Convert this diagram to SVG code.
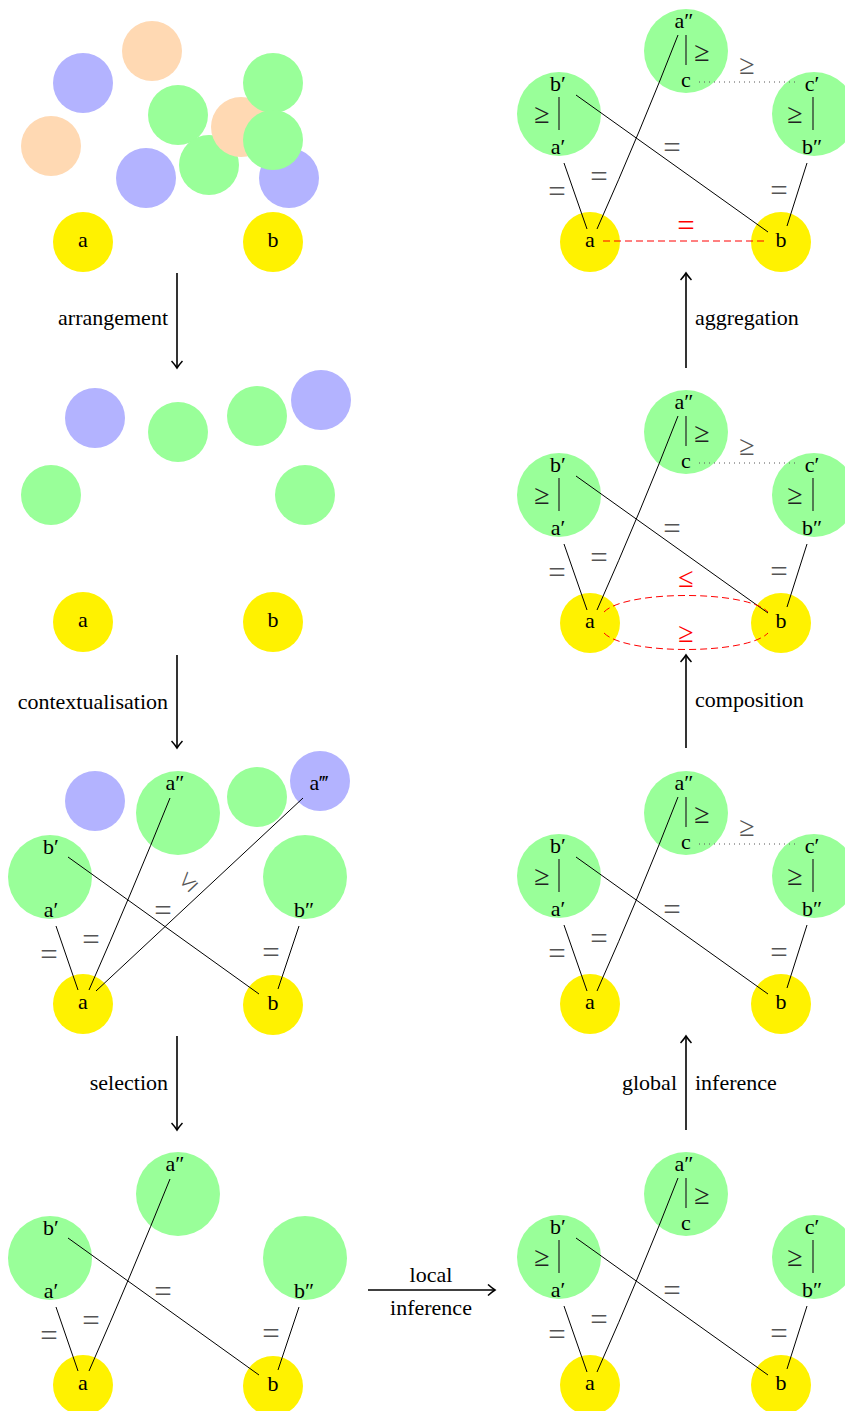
<svg xmlns="http://www.w3.org/2000/svg" width="845" height="1411" viewBox="0 0 845 1411">
<style>
.y{fill:#fff200}.g{fill:#99ff99}.bl{fill:#b3b3ff}.p{fill:#ffd9b3}
text{font-family:"Liberation Serif","DejaVu Serif",serif;font-size:22px;text-anchor:middle;fill:#000}
.eq{font-size:31px;fill:#555}
.rel{font-size:28px;fill:#222}
.relg{font-size:28px;fill:#555}
.red{fill:#ff0000}
.ln{stroke:#000;stroke-width:1;fill:none}
.bar{stroke:#222;stroke-width:1.2}
.dot{stroke:#555;stroke-width:1;stroke-dasharray:1 4;fill:none}
.rd{stroke:#ff0000;stroke-width:1;stroke-dasharray:7 4;fill:none}
.arr{stroke:#000;stroke-width:1.6;fill:none;marker-end:url(#ah)}
.st{text-anchor:start}.en{text-anchor:end}
</style>
<defs>
<marker id="ah" viewBox="-8 -6 10 12" markerWidth="10" markerHeight="12" refX="0" refY="0" orient="auto" markerUnits="userSpaceOnUse">
<path d="M-7,-5.5 Q-2.5,-1.5 0,0 Q-2.5,1.5 -7,5.5" fill="none" stroke="#000" stroke-width="1.5"/>
</marker>
</defs>

<!-- Panel L1 -->
<g id="L1">
<g id="L1-n1"><circle class="bl" cx="83" cy="83" r="30"/></g>
<g id="L1-n2"><circle class="p" cx="152" cy="51" r="30"/></g>
<g id="L1-n3"><circle class="p" cx="51" cy="146" r="30"/></g>
<g id="L1-n4"><circle class="bl" cx="146" cy="178" r="30"/></g>
<g id="L1-n5"><circle class="bl" cx="289" cy="178" r="30"/></g>
<g id="L1-n6"><circle class="g" cx="178" cy="115" r="30"/></g>
<g id="L1-n7"><circle class="g" cx="209" cy="165" r="30"/></g>
<g id="L1-n8"><circle class="p" cx="241" cy="127" r="30"/></g>
<g id="L1-n9"><circle class="g" cx="273" cy="83" r="30"/></g>
<g id="L1-n10"><circle class="g" cx="273" cy="140" r="30"/></g>
<g id="L1-a"><circle class="y" cx="83" cy="242" r="30"/><text x="83" y="247">a</text></g>
<g id="L1-b"><circle class="y" cx="273" cy="242" r="30"/><text x="273" y="247">b</text></g>
</g>

<!-- Panel L2 -->
<g id="L2">
<g id="L2-n1"><circle class="bl" cx="95" cy="418" r="30"/></g>
<g id="L2-n2"><circle class="g" cx="178" cy="432" r="30"/></g>
<g id="L2-n3"><circle class="g" cx="257" cy="416" r="30"/></g>
<g id="L2-n4"><circle class="bl" cx="321" cy="400" r="30"/></g>
<g id="L2-n5"><circle class="g" cx="51" cy="495" r="30"/></g>
<g id="L2-n6"><circle class="g" cx="305" cy="495" r="30"/></g>
<g id="L2-a"><circle class="y" cx="83" cy="622" r="30"/><text x="83" y="627">a</text></g>
<g id="L2-b"><circle class="y" cx="273" cy="622" r="30"/><text x="273" y="627">b</text></g>
</g>

<!-- Panel L3 -->
<g id="L3">
<g id="L3-n1"><circle class="bl" cx="95" cy="801" r="30"/></g>
<g id="L3-a2"><circle class="g" cx="178" cy="813" r="42"/><text x="175" y="790">a″</text></g>
<g id="L3-n2"><circle class="g" cx="257" cy="797" r="30"/></g>
<g id="L3-a3"><circle class="bl" cx="320" cy="781" r="30"/><text x="319" y="790">a‴</text></g>
<g id="L3-b1"><circle class="g" cx="50" cy="877" r="42"/><text x="51" y="854">b′</text><text x="51" y="917">a′</text></g>
<g id="L3-b2"><circle class="g" cx="305" cy="877" r="42"/><text x="304" y="917">b″</text></g>
<g id="L3-a"><circle class="y" cx="83" cy="1004" r="30"/><text x="83" y="1009">a</text></g>
<g id="L3-b"><circle class="y" cx="273" cy="1005" r="30"/><text x="273" y="1010">b</text></g>
</g>

<!-- Panel L4 -->
<g id="L4">
<g id="L4-a2"><circle class="g" cx="178" cy="1194" r="42"/><text x="175" y="1171">a″</text></g>
<g id="L4-b1"><circle class="g" cx="50" cy="1258" r="42"/><text x="51" y="1235">b′</text><text x="51" y="1298">a′</text></g>
<g id="L4-b2"><circle class="g" cx="305" cy="1258" r="42"/><text x="304" y="1298">b″</text></g>
<g id="L4-a"><circle class="y" cx="83" cy="1385" r="30"/><text x="83" y="1390">a</text></g>
<g id="L4-b"><circle class="y" cx="273" cy="1386" r="30"/><text x="273" y="1391">b</text></g>
</g>

<!-- Right panels nodes -->
<g id="R1">
<g id="R1-a2"><circle class="g" cx="686" cy="51" r="42"/><text x="684" y="28">a″</text><line class="bar" x1="686" y1="35" x2="686" y2="65"/><text class="rel" x="702" y="61">≥</text><text x="686" y="87">c</text></g>
<g id="R1-b1"><circle class="g" cx="559" cy="114" r="42"/><text x="558" y="91">b′</text><text class="rel" x="542" y="123">≥</text><line class="bar" x1="559" y1="97" x2="559" y2="130"/><text x="558" y="154">a′</text></g>
<g id="R1-c1"><circle class="g" cx="814" cy="114" r="42"/><text x="812" y="91">c′</text><text class="rel" x="795" y="123">≥</text><line class="bar" x1="813" y1="97" x2="813" y2="130"/><text x="812" y="154">b″</text></g>
<g id="R1-a"><circle class="y" cx="590" cy="242" r="30"/><text x="590" y="247">a</text></g>
<g id="R1-b"><circle class="y" cx="781" cy="242" r="30"/><text x="781" y="247">b</text></g>
</g>

<g id="R2" transform="translate(0,381)">
<g id="R2-a2"><circle class="g" cx="686" cy="51" r="42"/><text x="684" y="28">a″</text><line class="bar" x1="686" y1="35" x2="686" y2="65"/><text class="rel" x="702" y="61">≥</text><text x="686" y="87">c</text></g>
<g id="R2-b1"><circle class="g" cx="559" cy="114" r="42"/><text x="558" y="91">b′</text><text class="rel" x="542" y="123">≥</text><line class="bar" x1="559" y1="97" x2="559" y2="130"/><text x="558" y="154">a′</text></g>
<g id="R2-c1"><circle class="g" cx="814" cy="114" r="42"/><text x="812" y="91">c′</text><text class="rel" x="795" y="123">≥</text><line class="bar" x1="813" y1="97" x2="813" y2="130"/><text x="812" y="154">b″</text></g>
<g id="R2-a"><circle class="y" cx="590" cy="242" r="30"/><text x="590" y="247">a</text></g>
<g id="R2-b"><circle class="y" cx="781" cy="242" r="30"/><text x="781" y="247">b</text></g>
</g>

<g id="R3" transform="translate(0,762)">
<g id="R3-a2"><circle class="g" cx="686" cy="51" r="42"/><text x="684" y="28">a″</text><line class="bar" x1="686" y1="35" x2="686" y2="65"/><text class="rel" x="702" y="61">≥</text><text x="686" y="87">c</text></g>
<g id="R3-b1"><circle class="g" cx="559" cy="114" r="42"/><text x="558" y="91">b′</text><text class="rel" x="542" y="123">≥</text><line class="bar" x1="559" y1="97" x2="559" y2="130"/><text x="558" y="154">a′</text></g>
<g id="R3-c1"><circle class="g" cx="814" cy="114" r="42"/><text x="812" y="91">c′</text><text class="rel" x="795" y="123">≥</text><line class="bar" x1="813" y1="97" x2="813" y2="130"/><text x="812" y="154">b″</text></g>
<g id="R3-a"><circle class="y" cx="590" cy="242" r="30"/><text x="590" y="247">a</text></g>
<g id="R3-b"><circle class="y" cx="781" cy="242" r="30"/><text x="781" y="247">b</text></g>
</g>

<g id="R4" transform="translate(0,1143)">
<g id="R4-a2"><circle class="g" cx="686" cy="51" r="42"/><text x="684" y="28">a″</text><line class="bar" x1="686" y1="35" x2="686" y2="65"/><text class="rel" x="702" y="61">≥</text><text x="686" y="87">c</text></g>
<g id="R4-b1"><circle class="g" cx="559" cy="114" r="42"/><text x="558" y="91">b′</text><text class="rel" x="542" y="123">≥</text><line class="bar" x1="559" y1="97" x2="559" y2="130"/><text x="558" y="154">a′</text></g>
<g id="R4-c1"><circle class="g" cx="814" cy="114" r="42"/><text x="812" y="91">c′</text><text class="rel" x="795" y="123">≥</text><line class="bar" x1="813" y1="97" x2="813" y2="130"/><text x="812" y="154">b″</text></g>
<g id="R4-a"><circle class="y" cx="590" cy="242" r="30"/><text x="590" y="247">a</text></g>
<g id="R4-b"><circle class="y" cx="781" cy="242" r="30"/><text x="781" y="247">b</text></g>
</g>

<!-- Connectors -->
<g id="connectors">
<!-- L3 -->
<line class="ln" x1="56" y1="926" x2="78" y2="990"/>
<path class="ln" d="M170,798 Q132,892 89,990"/>
<line class="ln" x1="303" y1="798" x2="96" y2="991"/>
<line class="ln" x1="68" y1="857" x2="259" y2="994"/>
<line class="ln" x1="299" y1="926" x2="278" y2="989"/>
<text class="eq" x="49" y="965">=</text>
<text class="eq" x="91" y="950">=</text>
<text class="eq" x="163" y="921">=</text>
<text class="eq" x="271" y="963">=</text>
<text class="relg" x="188" y="890" transform="rotate(-43 188 882)">≤</text>
<!-- L4 -->
<line class="ln" x1="56" y1="1307" x2="78" y2="1371"/>
<path class="ln" d="M170,1179 Q132,1273 89,1371"/>
<line class="ln" x1="68" y1="1238" x2="259" y2="1375"/>
<line class="ln" x1="299" y1="1307" x2="278" y2="1370"/>
<text class="eq" x="49" y="1346">=</text>
<text class="eq" x="91" y="1331">=</text>
<text class="eq" x="163" y="1302">=</text>
<text class="eq" x="271" y="1344">=</text>
<!-- R1 -->
<g id="R1-edges">
<line class="ln" x1="564" y1="163" x2="587" y2="229"/>
<path class="ln" d="M678,35 Q641,130 597,229"/>
<line class="ln" x1="576" y1="95" x2="768" y2="232"/>
<line class="ln" x1="807" y1="163" x2="787" y2="226"/>
<line class="dot" x1="699" y1="82" x2="797" y2="82"/>
<line class="rd" x1="603" y1="241" x2="768" y2="241"/>
<text class="eq" x="557" y="202">=</text>
<text class="eq" x="599" y="187">=</text>
<text class="eq" x="672" y="158">=</text>
<text class="eq" x="779" y="201">=</text>
<text class="relg" x="747" y="74">≥</text>
<text class="eq red" x="686" y="236">=</text>
</g>
<g id="R2-edges" transform="translate(0,381)">
<line class="ln" x1="564" y1="163" x2="587" y2="229"/>
<path class="ln" d="M678,35 Q641,130 597,229"/>
<line class="ln" x1="576" y1="95" x2="768" y2="232"/>
<line class="ln" x1="807" y1="163" x2="787" y2="226"/>
<line class="dot" x1="699" y1="82" x2="797" y2="82"/>
<path class="rd" d="M604,231 C625,209 747,209 768,231"/>
<path class="rd" d="M604,252 C625,274 747,274 768,252"/>
<text class="eq" x="557" y="202">=</text>
<text class="eq" x="599" y="187">=</text>
<text class="eq" x="672" y="158">=</text>
<text class="eq" x="779" y="201">=</text>
<text class="relg" x="747" y="74">≥</text>
<text class="rel red" x="686" y="206">≤</text>
<text class="rel red" x="686" y="261">≥</text>
</g>
<g id="R3-edges" transform="translate(0,762)">
<line class="ln" x1="564" y1="163" x2="587" y2="229"/>
<path class="ln" d="M678,35 Q641,130 597,229"/>
<line class="ln" x1="576" y1="95" x2="768" y2="232"/>
<line class="ln" x1="807" y1="163" x2="787" y2="226"/>
<line class="dot" x1="699" y1="82" x2="797" y2="82"/>
<text class="eq" x="557" y="202">=</text>
<text class="eq" x="599" y="187">=</text>
<text class="eq" x="672" y="158">=</text>
<text class="eq" x="779" y="201">=</text>
<text class="relg" x="747" y="74">≥</text>
</g>
<g id="R4-edges" transform="translate(0,1143)">
<line class="ln" x1="564" y1="163" x2="587" y2="229"/>
<path class="ln" d="M678,35 Q641,130 597,229"/>
<line class="ln" x1="576" y1="95" x2="768" y2="232"/>
<line class="ln" x1="807" y1="163" x2="787" y2="226"/>
<text class="eq" x="557" y="202">=</text>
<text class="eq" x="599" y="187">=</text>
<text class="eq" x="672" y="158">=</text>
<text class="eq" x="779" y="201">=</text>
</g>
<!-- process arrows -->
<line class="arr" x1="177" y1="273" x2="177" y2="368"/>
<text class="en" x="168" y="325">arrangement</text>
<line class="arr" x1="177" y1="655" x2="177" y2="748"/>
<text class="en" x="168" y="709">contextualisation</text>
<line class="arr" x1="177" y1="1036" x2="177" y2="1130"/>
<text class="en" x="168" y="1090">selection</text>
<line class="arr" x1="368" y1="1290" x2="495" y2="1290"/>
<text x="431" y="1282">local</text>
<text x="431" y="1315">inference</text>
<line class="arr" x1="686" y1="1130" x2="686" y2="1036"/>
<text class="en" x="677" y="1090">global</text>
<text class="st" x="695" y="1090">inference</text>
<line class="arr" x1="686" y1="748" x2="686" y2="655"/>
<text class="st" x="695" y="707">composition</text>
<line class="arr" x1="686" y1="368" x2="686" y2="273"/>
<text class="st" x="695" y="325">aggregation</text>
</g>
</svg>
